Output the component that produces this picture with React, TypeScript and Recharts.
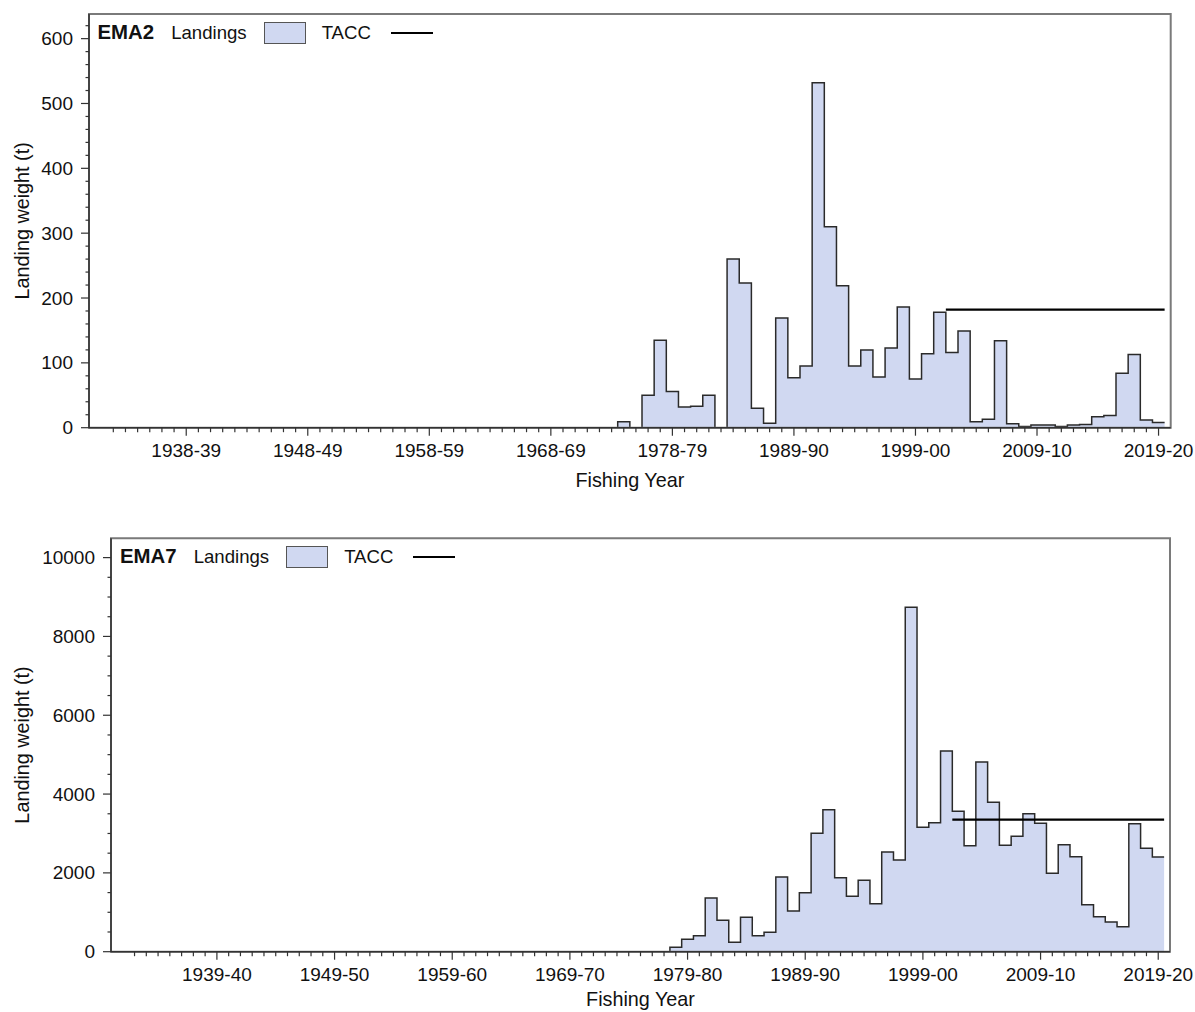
import React from "react";
import {
  ComposedChart,
  Area,
  Line,
  XAxis,
  YAxis,
  ReferenceArea,
  Legend,
} from "recharts";

// ---------- Data ----------
// EMA2: fishing years shown on the axis (one category per year; axis starts at 1930-31)
const EMA2_PRE_YEARS = [
  "1930-31", "1931-32", "1932-33", "1933-34", "1934-35", "1935-36", "1936-37", "1937-38",
  "1938-39", "1939-40", "1940-41", "1941-42", "1942-43", "1943-44", "1944-45", "1945-46",
  "1946-47", "1947-48", "1948-49", "1949-50", "1950-51", "1951-52", "1952-53", "1953-54",
  "1954-55", "1955-56", "1956-57", "1957-58", "1958-59", "1959-60", "1960-61", "1961-62",
  "1962-63", "1963-64", "1964-65", "1965-66", "1966-67", "1967-68", "1968-69", "1969-70",
  "1970-71", "1971-72", "1972-73",
];
const EMA2_YEARS = [
  "1973-74", "1974-75", "1975-76", "1976-77", "1977-78", "1978-79", "1979-80", "1980-81",
  "1981-82", "1982-83", "1983-84", "1985-86", "1986-87", "1987-88", "1988-89", "1989-90",
  "1990-91", "1991-92", "1992-93", "1993-94", "1994-95", "1995-96", "1996-97", "1997-98",
  "1998-99", "1999-00", "2000-01", "2001-02", "2002-03", "2003-04", "2004-05", "2005-06",
  "2006-07", "2007-08", "2008-09", "2009-10", "2010-11", "2011-12", "2012-13", "2013-14",
  "2014-15", "2015-16", "2016-17", "2017-18", "2018-19", "2019-20",
];
const EMA2_LANDINGS = [
  0, 9, 0, 50, 135, 56, 32, 33,
  50, 0, 260, 223, 30, 7, 169, 77,
  95, 532, 310, 219, 95, 120, 78, 123,
  186, 75, 114, 178, 116, 149, 9, 13,
  134, 6, 2, 4, 4, 2, 4, 5,
  17, 19, 84, 113, 12, 8,
];
const EMA2_TACC = [
  null, null, null, null, null, null, null, null,
  null, null, null, null, null, null, null, null,
  null, null, null, null, null, null, null, null,
  null, null, null, null, 182, 182, 182, 182,
  182, 182, 182, 182, 182, 182, 182, 182,
  182, 182, 182, 182, 182, 182,
];
const EMA2_TICK_LABELS = [
  "1938-39", "1948-49", "1958-59", "1968-69", "1978-79", "1989-90", "1999-00", "2009-10", "2019-20",
];

// EMA7
const EMA7_PRE_YEARS = [
  "1930-31", "1931-32", "1932-33", "1933-34", "1934-35", "1935-36", "1936-37", "1937-38",
  "1938-39", "1939-40", "1940-41", "1941-42", "1942-43", "1943-44", "1944-45", "1945-46",
  "1946-47", "1947-48", "1948-49", "1949-50", "1950-51", "1951-52", "1952-53", "1953-54",
  "1954-55", "1955-56", "1956-57", "1957-58", "1958-59", "1959-60", "1960-61", "1961-62",
  "1962-63", "1963-64", "1964-65", "1965-66", "1966-67", "1967-68", "1968-69", "1969-70",
  "1970-71", "1971-72", "1972-73", "1973-74", "1974-75", "1975-76", "1976-77",
];
const EMA7_YEARS = [
  "1977-78", "1978-79", "1979-80", "1980-81", "1981-82", "1982-83", "1983-84", "1984-85",
  "1985-86", "1986-87", "1987-88", "1988-89", "1989-90", "1990-91", "1991-92", "1992-93",
  "1993-94", "1994-95", "1995-96", "1996-97", "1997-98", "1998-99", "1999-00", "2000-01",
  "2001-02", "2002-03", "2003-04", "2004-05", "2005-06", "2006-07", "2007-08", "2008-09",
  "2009-10", "2010-11", "2011-12", "2012-13", "2013-14", "2014-15", "2015-16", "2016-17",
  "2017-18", "2018-19", "2019-20",
];
const EMA7_LANDINGS = [
  0, 111, 314, 407, 1363, 796, 238, 872,
  407, 492, 1896, 1033, 1498, 3005, 3604, 1878,
  1406, 1812, 1218, 2530, 2327, 8741, 3157, 3274,
  5094, 3563, 2690, 4815, 3792, 2700, 2929, 3503,
  3259, 1990, 2716, 2411, 1193, 888, 754, 635,
  3249, 2624, 2404,
];
const EMA7_TACC = [
  null, null, null, null, null, null, null, null,
  null, null, null, null, null, null, null, null,
  null, null, null, null, null, null, null, null,
  null, 3350, 3350, 3350, 3350, 3350, 3350, 3350,
  3350, 3350, 3350, 3350, 3350, 3350, 3350, 3350,
  3350, 3350, 3350,
];
const EMA7_TICK_LABELS = [
  "1939-40", "1949-50", "1959-60", "1969-70", "1979-80", "1989-90", "1999-00", "2009-10", "2019-20",
];

// ---------- Styling ----------
const FONT = "'Liberation Sans', Arial, sans-serif";
const FS_TICK = 19;
const FS_TITLE = 19.8;
const FS_LEG = 18.6;
const FS_BOLD = 20.4;
const FILL = "#d0d8f1";
const OUTLINE = "#2a2a2a";
const FRAME = "#7a7a7a";
const AXIS = "#333333";

type Row = { x: number; landings: number | null; tacc: number | null };

// Each category occupies [i-0.5, i+0.5]; step edges go at the left edge, plus a closing edge.
function buildRows(pre: string[], years: string[], landings: (number | null)[], tacc: (number | null)[]): Row[] {
  const rows: Row[] = years.map((_, k) => ({
    x: pre.length + k - 0.5,
    landings: landings[k],
    tacc: tacc[k],
  }));
  const last = years.length - 1;
  rows.push({ x: pre.length + last + 0.5, landings: landings[last], tacc: tacc[last] });
  return rows;
}

function range(a: number, b: number, step: number) {
  const out: number[] = [];
  for (let v = a; v <= b + 1e-9; v += step) out.push(v);
  return out;
}

const makeXTick = (allYears: string[], majorLabels: string[]) => (props: any) => {
  const { x, y, payload } = props;
  const label = allYears[Math.round(payload.value)];
  const major = majorLabels.includes(label);
  return (
    <g>
      <line x1={x} x2={x} y1={y} y2={y + (major ? 8 : 4.5)} stroke={AXIS} strokeWidth={1.2} />
      {major && (
        <text x={x} y={y + 23} textAnchor="middle" dominantBaseline="central" fontFamily={FONT} fontSize={FS_TICK} fill="#111">
          {label}
        </text>
      )}
    </g>
  );
};

const makeYTick = (majorStep: number) => (props: any) => {
  const { x, y, payload } = props;
  const v = payload.value;
  const major = Math.abs(v / majorStep - Math.round(v / majorStep)) < 1e-6;
  return (
    <g>
      <line x1={x} x2={x - (major ? 8 : 3.5)} y1={y} y2={y} stroke={AXIS} strokeWidth={1.2} />
      {major && (
        <text x={x - 16} y={y} textAnchor="end" dominantBaseline="central" fontFamily={FONT} fontSize={FS_TICK} fill="#111">
          {v}
        </text>
      )}
    </g>
  );
};

const LegendBox = ({ name }: { name: string }) => (
  <div style={{ display: "flex", alignItems: "center", fontFamily: FONT, fontSize: FS_LEG, color: "#111", whiteSpace: "nowrap" }}>
    <span style={{ fontWeight: "bold", fontSize: FS_BOLD }}>{name}</span>
    <span style={{ marginLeft: 17 }}>Landings</span>
    <span style={{ marginLeft: 17, width: 40, height: 20, background: FILL, border: "1px solid #555", display: "inline-block" }} />
    <span style={{ marginLeft: 16 }}>TACC</span>
    <span style={{ marginLeft: 20, width: 42, height: 0, borderTop: "2px solid #000", display: "inline-block" }} />
  </div>
);

type PanelProps = {
  name: string;
  pre: string[];
  years: string[];
  landings: (number | null)[];
  tacc: (number | null)[];
  tickLabels: string[];
  yMax: number;
  yMinorStep: number;
  yMajorStep: number;
  yTopTick: number;
  width: number;
  height: number;
  margin: { top: number; right: number; bottom: number; left: number };
  legendPos: { left: number; top: number };
  xLabelDy: number;
};

function Panel(p: PanelProps) {
  const allYears = [...p.pre, ...p.years];
  const rows = buildRows(p.pre, p.years, p.landings, p.tacc);
  const xMax = allYears.length;
  const minorTicks = range(2, allYears.length - 1, 1);
  const yTicks = range(0, p.yTopTick, p.yMinorStep);
  return (
    <ComposedChart width={p.width} height={p.height} data={rows} margin={p.margin}>
      <XAxis
        type="number"
        dataKey="x"
        domain={[0, xMax]}
        allowDataOverflow
        ticks={minorTicks}
        interval={0}
        tickSize={0}
        tickMargin={0}
        height={60}
        tick={makeXTick(allYears, p.tickLabels)}
        axisLine={{ stroke: AXIS, strokeWidth: 1.5 }}
        tickLine={false}
        label={{
          content: (lp: any) => {
            const vb = lp.viewBox || {};
            return (
              <text x={vb.x + vb.width / 2} y={vb.y + p.xLabelDy} textAnchor="middle" dominantBaseline="central" fontFamily={FONT} fontSize={FS_TITLE} fill="#111">
                Fishing Year
              </text>
            );
          },
        }}
      />
      <YAxis
        type="number"
        domain={[0, p.yMax]}
        allowDataOverflow
        ticks={yTicks}
        interval={0}
        tickSize={0}
        tickMargin={0}
        width={60}
        tick={makeYTick(p.yMajorStep)}
        axisLine={{ stroke: AXIS, strokeWidth: 1.5 }}
        tickLine={false}
        label={{
          content: (lp: any) => {
            const vb = lp.viewBox || {};
            const cx = 22;
            const cy = vb.y + vb.height / 2;
            return (
              <text x={cx} y={cy} transform={`rotate(-90, ${cx}, ${cy})`} textAnchor="middle" dominantBaseline="central" fontFamily={FONT} fontSize={FS_TITLE} fill="#111">
                Landing weight (t)
              </text>
            );
          },
        }}
      />
      <Area
        type="stepAfter"
        dataKey="landings"
        name="Landings"
        fill={FILL}
        fillOpacity={1}
        stroke={OUTLINE}
        strokeWidth={1.5}
        isAnimationActive={false}
        dot={false}
        activeDot={false}
      />
      <Line
        type="stepAfter"
        dataKey="tacc"
        name="TACC"
        stroke="#000"
        strokeWidth={2.2}
        dot={false}
        activeDot={false}
        connectNulls={false}
        isAnimationActive={false}
      />
      <ReferenceArea x1={0} x2={xMax} y1={0} y2={p.yMax} fill="none" stroke={FRAME} strokeWidth={2} ifOverflow="visible" />
      <Legend
        layout="horizontal"
        verticalAlign="middle"
        align="center"
        wrapperStyle={{ position: "absolute", left: p.legendPos.left, top: p.legendPos.top, width: "auto", height: "auto" }}
        content={() => <LegendBox name={p.name} />}
      />
    </ComposedChart>
  );
}

export default function App() {
  return (
    <div style={{ position: "absolute", left: 0, top: 0, width: 1195, height: 1012, background: "#fff" }}>
      <div style={{ position: "absolute", left: 0, top: 0 }}>
        <Panel
          name="EMA2"
          pre={EMA2_PRE_YEARS}
          years={EMA2_YEARS}
          landings={EMA2_LANDINGS}
          tacc={EMA2_TACC}
          tickLabels={EMA2_TICK_LABELS}
          yMax={638}
          yMinorStep={20}
          yMajorStep={100}
          yTopTick={620}
          width={1195}
          height={500}
          margin={{ top: 14, right: 24.3, bottom: 12.3, left: 29 }}
          legendPos={{ left: 97.5, top: 21 }}
          xLabelDy={52}
        />
      </div>
      <div style={{ position: "absolute", left: 0, top: 520 }}>
        <Panel
          name="EMA7"
          pre={EMA7_PRE_YEARS}
          years={EMA7_YEARS}
          landings={EMA7_LANDINGS}
          tacc={EMA7_TACC}
          tickLabels={EMA7_TICK_LABELS}
          yMax={10490}
          yMinorStep={500}
          yMajorStep={2000}
          yTopTick={10000}
          width={1195}
          height={492}
          margin={{ top: 18.3, right: 25, bottom: 0.3, left: 51 }}
          legendPos={{ left: 120, top: 25 }}
          xLabelDy={47.5}
        />
      </div>
    </div>
  );
}
